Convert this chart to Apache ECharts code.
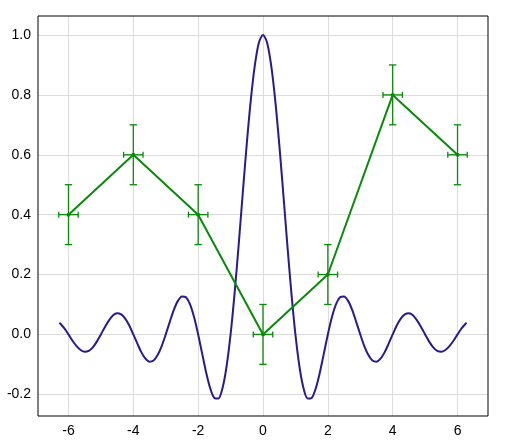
<!DOCTYPE html>
<html>
<head>
<meta charset="utf-8">
<script src="https://cdn.jsdelivr.net/npm/echarts@6/dist/echarts.min.js"></script>
<style>html,body{margin:0;padding:0;background:#fff;}#c{width:515px;height:448px;}</style>
</head>
<body>
<div id="c"></div>
<script>
// Blue curve
var curveX = [-6.28,-6.25,-6.125,-6,-5.875,-5.75,-5.625,-5.5,-5.375,-5.25,-5.125,-5,-4.875,-4.75,-4.625,-4.5,-4.375,-4.25,-4.125,-4,-3.875,-3.75,-3.625,-3.5,-3.375,-3.25,-3.125,-3,-2.875,-2.75,-2.625,-2.5,-2.375,-2.25,-2.125,-2,-1.875,-1.75,-1.625,-1.5,-1.375,-1.25,-1.125,-1,-0.875,-0.75,-0.625,-0.5,-0.375,-0.25,-0.125,0,0.125,0.25,0.375,0.5,0.625,0.75,0.875,1,1.125,1.25,1.375,1.5,1.625,1.75,1.875,2,2.125,2.25,2.375,2.5,2.625,2.75,2.875,3,3.125,3.25,3.375,3.5,3.625,3.75,3.875,4,4.125,4.25,4.375,4.5,4.625,4.75,4.875,5,5.125,5.25,5.375,5.5,5.625,5.75,5.875,6,6.125,6.25,6.28];
var curveY = [0.039,0.036,0.020,0,-0.021,-0.039,-0.052,-0.058,-0.055,-0.043,-0.024,0,0.025,0.047,0.064,0.071,0.067,0.053,0.030,0,-0.031,-0.060,-0.081,-0.091,-0.087,-0.069,-0.039,0,0.042,0.082,0.112,0.127,0.124,0.100,0.057,0,-0.065,-0.129,-0.181,-0.212,-0.214,-0.180,-0.108,0,0.139,0.300,0.471,0.637,0.784,0.900,0.975,1,0.975,0.900,0.784,0.637,0.471,0.300,0.139,0,-0.108,-0.180,-0.214,-0.212,-0.181,-0.129,-0.065,0,0.057,0.100,0.124,0.127,0.112,0.082,0.042,0,-0.039,-0.069,-0.087,-0.091,-0.081,-0.060,-0.031,0,0.030,0.053,0.067,0.071,0.064,0.047,0.025,0,-0.024,-0.043,-0.055,-0.058,-0.052,-0.039,-0.021,0,0.020,0.036,0.039];
// Green points with error bars
var ptsX = [-6,-4,-2,0,2,4,6];
var ptsY = [0.4,0.6,0.4,0,0.2,0.8,0.6];
var errX = [0.3,0.3,0.3,0.3,0.3,0.3,0.3];
var errY = [0.1,0.1,0.1,0.1,0.1,0.1,0.1];
// Tick labels
var xTicks = [-6,-4,-2,0,2,4,6];
var yTicks = [-0.2,0,0.2,0.4,0.6,0.8,1.0];

var curveData = curveX.map(function(x,i){return [x,curveY[i]];});
var ptsData = ptsX.map(function(x,i){return [x,ptsY[i]];});
var errData = ptsX.map(function(x,i){return [x,ptsY[i],errX[i],errY[i]];});

var XMIN=-6.94, XMAX=6.94, YMIN=-0.2725, YMAX=1.0635;
var FONT='Liberation Sans', FS=14;
var green = '#0a8a0a', blue = '#2a1a8c', gridC = '#dcdcdc';

function xAxisDef(pos, labels){
  return {
    type:'value', position:pos, min:XMIN, max:XMAX,
    axisLine:{show:false, onZero:false},
    axisTick:{show:true, inside:true, length:6, customValues:xTicks, lineStyle:{color:'#000',width:1}},
    axisLabel:{show:labels, customValues:xTicks, margin:8, fontFamily:FONT, fontSize:FS, color:'#000', formatter:function(v){return String(Math.round(v));}},
    splitLine:{show:false}
  };
}
function yAxisDef(pos, labels){
  return {
    type:'value', position:pos, min:YMIN, max:YMAX,
    axisLine:{show:false, onZero:false},
    axisTick:{show:true, inside:true, length:6, customValues:yTicks, lineStyle:{color:'#000',width:1}},
    axisLabel:{show:labels, customValues:yTicks, margin:7, fontFamily:FONT, fontSize:FS, color:'#000', formatter:function(v){return (Math.abs(v)<1e-9?0:v).toFixed(1);}},
    splitLine:{show:false}
  };
}

var gridLines = xTicks.map(function(v){return {xAxis:v};}).concat(yTicks.map(function(v){return {yAxis:v};}));

var chart = echarts.init(document.getElementById('c'), null, {renderer:'canvas'});
chart.setOption({
  animation:false,
  backgroundColor:'#fff',
  grid:{left:38, top:16, width:450, height:400, show:true, borderColor:'#000', borderWidth:1, backgroundColor:'transparent', z:5},
  xAxis:[xAxisDef('bottom',true), xAxisDef('top',false)],
  yAxis:[yAxisDef('left',true), yAxisDef('right',false)],
  series:[
    {type:'line', data:curveData, smooth:0.3, showSymbol:false, symbol:'none', lineStyle:{color:blue,width:2}, z:2,
      markLine:{silent:true, symbol:['none','none'], label:{show:false}, lineStyle:{color:gridC,width:1,type:'solid'}, emphasis:{disabled:true}, data:gridLines, z:1}
    },
    {type:'custom', data:errData, z:3,
      renderItem:function(params, api){
        var x=api.value(0), y=api.value(1), ex=api.value(2), ey=api.value(3);
        var c=api.coord([x,y]);
        var l=api.coord([x-ex,y]), r=api.coord([x+ex,y]);
        var t=api.coord([x,y+ey]), b=api.coord([x,y-ey]);
        var cap=3.7, vcap=3;
        var st={stroke:green, lineWidth:1.3};
        return {type:'group', children:[
          {type:'line', shape:{x1:t[0],y1:t[1],x2:b[0],y2:b[1]}, style:st},
          {type:'line', shape:{x1:t[0]-cap,y1:t[1],x2:t[0]+cap,y2:t[1]}, style:st},
          {type:'line', shape:{x1:b[0]-cap,y1:b[1],x2:b[0]+cap,y2:b[1]}, style:st},
          {type:'line', shape:{x1:l[0],y1:l[1],x2:r[0],y2:r[1]}, style:st},
          {type:'line', shape:{x1:l[0],y1:l[1]-vcap,x2:l[0],y2:l[1]+vcap}, style:st},
          {type:'line', shape:{x1:r[0],y1:r[1]-vcap,x2:r[0],y2:r[1]+vcap}, style:st},
          {type:'circle', shape:{cx:c[0],cy:c[1],r:2}, style:{fill:green}}
        ]};
      }
    },
    {type:'line', data:ptsData, showSymbol:false, symbol:'none', lineStyle:{color:green,width:2}, z:4}
  ]
});
</script>
</body>
</html>
